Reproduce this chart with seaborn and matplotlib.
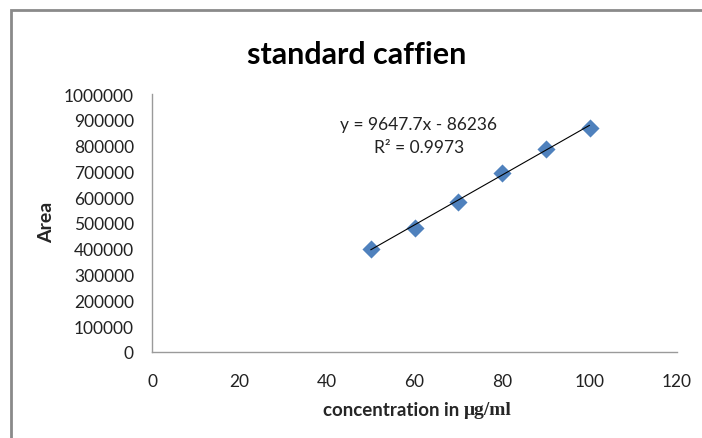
import matplotlib
matplotlib.use("Agg")
import matplotlib.pyplot as plt
import matplotlib.patches as patches
import numpy as np
import pandas as pd
import seaborn as sns

# data
concentration = [50, 60, 70, 80, 90, 100]
area = [399000, 480000, 582000, 695000, 787000, 868000]
slope = 9647.7
intercept = -86236
x_ticks = [0, 20, 40, 60, 80, 100, 120]
y_ticks = list(range(0, 1000001, 100000))

df = pd.DataFrame({"concentration": concentration, "area": area})

sns.set_style("white")
plt.rcParams["font.family"] = ["Lato", "DejaVu Sans"]

fig = plt.figure(figsize=(7.02, 4.39), dpi=100)
ax = fig.add_axes([152 / 702, 1 - 353 / 439, (677 - 152) / 702, (353 - 95) / 439])

# linear trendline over the data range
xs = np.array([min(concentration), max(concentration)])
ax.plot(xs, slope * xs + intercept, color="black", lw=0.8, zorder=3)

sns.scatterplot(data=df, x="concentration", y="area", marker="D", s=85,
                color="#4F81BD", edgecolor="#4F81BD", linewidth=0, ax=ax, zorder=2)

ax.set_xlim(0, 120)
ax.set_ylim(0, 1000000)
ax.set_xticks(x_ticks)
ax.set_yticks(y_ticks)
ax.set_xticklabels([str(v) for v in x_ticks], fontsize=12.5, color="#222222")
ax.set_yticklabels([str(v) for v in y_ticks], fontsize=12.5, color="#222222")
ax.tick_params(axis="y", length=0, pad=13)
ax.tick_params(axis="x", length=0, pad=15)

for side in ["top", "right"]:
    ax.spines[side].set_visible(False)
for side in ["left", "bottom"]:
    ax.spines[side].set_color("#9a9a9a")
    ax.spines[side].set_linewidth(1)

ax.set_xlabel("")
ax.set_ylabel("")

# titles and labels
fig.text(357 / 702, 1 - 55 / 439, "standard caffien", ha="center", va="center",
         fontsize=22, fontweight="bold", color="black")
fig.text(47 / 702, 1 - 222 / 439, "Area", ha="center", va="center",
         rotation=90, fontsize=14, fontweight="bold")
fig.text(464 / 702, 1 - 411 / 439, "concentration in ", ha="right", va="center",
         fontsize=13.5, fontweight="bold")
fig.text(464 / 702, 1 - 411 / 439, "μg/ml", ha="left", va="center",
         fontsize=14, fontweight="bold", family=["Liberation Serif", "DejaVu Serif"])

# equation box
ax.text(0.508, 0.885, "y = 9647.7x - 86236", transform=ax.transAxes,
        ha="center", va="center", fontsize=12.5, color="#222222")
ax.text(0.508, 0.795, "R² = 0.9973", transform=ax.transAxes,
        ha="center", va="center", fontsize=12.5, color="#222222")

# chart frame
frame = patches.Rectangle((10.5 / 702, -0.1), 1.2, 1 - 10.5 / 439 + 0.1,
                          transform=fig.transFigure, fill=False,
                          edgecolor="#8a8a8a", linewidth=2, clip_on=False)
fig.patches.append(frame)

fig.savefig("out.png", dpi=100)
